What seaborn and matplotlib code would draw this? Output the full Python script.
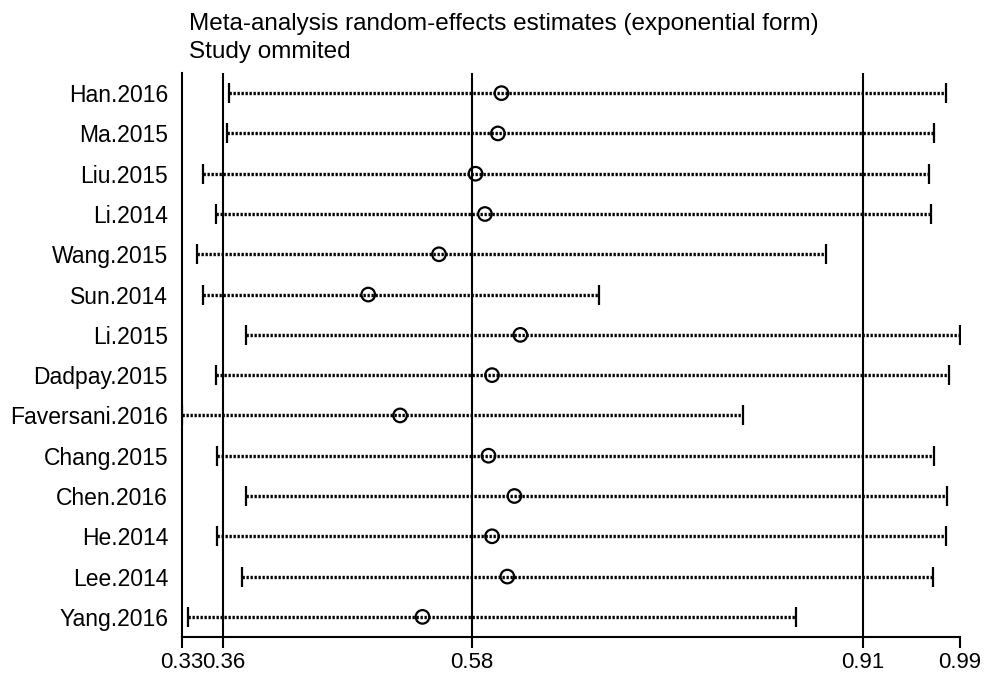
import seaborn as sns
import matplotlib.pyplot as plt
import pandas as pd

# Sensitivity analysis: estimate with each study omitted
studies = ['Han.2016', 'Ma.2015', 'Liu.2015', 'Li.2014', 'Wang.2015', 'Sun.2014',
           'Li.2015', 'Dadpay.2015', 'Faversani.2016', 'Chang.2015', 'Chen.2016',
           'He.2014', 'Lee.2014', 'Yang.2016']
estimate = [0.601, 0.598, 0.579, 0.587, 0.548, 0.488, 0.617, 0.593, 0.515,
            0.590, 0.612, 0.593, 0.606, 0.534]
lower = [0.370, 0.368, 0.348, 0.359, 0.343, 0.348, 0.384, 0.359, 0.330,
         0.360, 0.384, 0.360, 0.381, 0.335]
upper = [0.978, 0.968, 0.964, 0.965, 0.876, 0.684, 0.990, 0.981, 0.806,
         0.968, 0.979, 0.978, 0.967, 0.851]

# combined estimate and its CI (reference lines)
ref_lines = [0.3651, 0.5759, 0.9074]
tick_values = [0.33, 0.3651, 0.5759, 0.9074, 0.99]
tick_labels = ['0.33', '0.36', '0.58', '0.91', '0.99']

df = pd.DataFrame({'study': studies, 'est': estimate, 'lo': lower, 'hi': upper})
df['pos'] = range(len(df))

sns.set_theme(style='white')
plt.rcParams['font.family'] = ['Liberation Sans', 'DejaVu Sans']

fig, ax = plt.subplots(figsize=(9.87, 6.73), dpi=100)
fig.subplots_adjust(left=182/987, right=960/987, bottom=1-637/673, top=1-73/673)

for x in ref_lines:
    ax.axvline(x, color='black', lw=1.5, zorder=1)

# confidence intervals with end caps
ax.hlines(df['pos'], df['lo'], df['hi'], colors='black', lw=2.4,
          linestyles=(0, (0.7, 0.5)), zorder=2)
ax.scatter(df['lo'], df['pos'], marker='|', s=190, color='black', linewidths=1.6, zorder=3)
ax.scatter(df['hi'], df['pos'], marker='|', s=190, color='black', linewidths=1.6, zorder=3)

sns.scatterplot(data=df, x='est', y='pos', marker='o', s=95, facecolor='none',
                edgecolor='black', linewidth=1.6, zorder=4, ax=ax, legend=False)

ax.set_xlim(0.33, 0.99)
ax.set_ylim(len(df) - 0.5, -0.5)
ax.set_yticks(df['pos'], df['study'])
ax.set_xticks(tick_values, tick_labels)
ax.set_xlabel('')
ax.set_ylabel('')

for s in ['top', 'right']:
    ax.spines[s].set_visible(False)
for s in ['left', 'bottom']:
    ax.spines[s].set_color('black')
    ax.spines[s].set_linewidth(1.5)

ax.tick_params(axis='x', bottom=True, length=8, width=1.5, color='black',
               labelsize=16, pad=3, labelcolor='black')
ax.tick_params(axis='y', left=False, length=0, labelsize=16.5, pad=10, labelcolor='black')

fig.text(189/987, 1 - 30/673, 'Meta-analysis random-effects estimates (exponential form)',
         ha='left', va='baseline', fontsize=17.5, color='black')
fig.text(189/987, 1 - 58/673, 'Study ommited',
         ha='left', va='baseline', fontsize=17.5, color='black')

fig.savefig('out.png', dpi=100)
